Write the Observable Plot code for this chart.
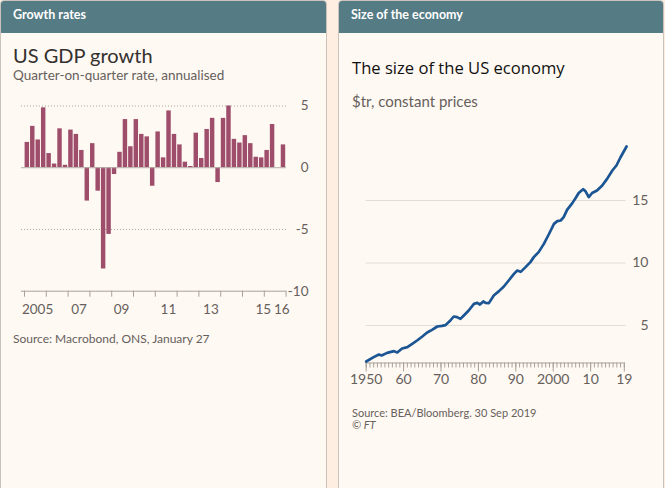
<!DOCTYPE html>
<html><head><meta charset="utf-8">
<script src="https://cdn.jsdelivr.net/npm/d3@7"></script>
<script src="https://cdn.jsdelivr.net/npm/@observablehq/plot@0.6"></script>
<style>
body{margin:0;width:665px;height:488px;background:#fdeee1;position:relative;overflow:hidden;font-family:Lato,"Noto Sans",sans-serif;color:#33302e}
.panel{position:absolute;top:0;height:489px;background:#fff9f3;border:1px solid #cbc2ba;box-sizing:border-box;border-radius:4px 4px 0 0;overflow:hidden}
.hdr{position:absolute;left:0;top:0;right:0;height:32px;background:#557b84}
.t{position:absolute;white-space:nowrap;line-height:1}
.h{color:#fff;font-weight:bold;font-size:12.5px}
.svgbox{position:absolute}
</style></head>
<body>
<div class="panel" style="left:0;width:327px"><div class="hdr"></div></div>
<div class="panel" style="left:338px;width:326px"><div class="hdr"></div></div>

<div class="t h" style="left:13px;top:9px">Growth rates</div>
<div class="t" style="left:13px;top:45px;font-size:20px">US GDP growth</div>
<div class="t" style="left:13px;top:69px;font-size:13.5px;color:#66605c">Quarter-on-quarter rate, annualised</div>
<div class="svgbox" id="left" style="left:0;top:90px"></div>
<div class="t" style="left:13px;top:333px;font-size:12px;color:#66605c">Source: Macrobond, ONS, January 27</div>

<div class="t h" style="left:351px;top:9px">Size of the economy</div>
<div class="t" style="left:352px;top:60px;font-size:16.6px;font-family:'Open Sans';color:#111">The size of the US economy</div>
<div class="t" style="left:352px;top:94px;font-size:15px;color:#66605c">$tr, constant prices</div>
<div class="svgbox" id="right" style="left:338px;top:130px"></div>
<div class="t" style="left:352px;top:407px;font-size:11px;color:#66605c">Source: BEA/Bloomberg. 30 Sep 2019</div>
<div class="t" style="left:352px;top:419px;font-size:11px;color:#66605c;font-style:italic">© FT</div>

<script>
// ---- Left chart: US GDP growth, quarter-on-quarter annualised (%), 2005Q1..2016Q4
const growthStartYear = 2005;
const growthValues = [2.05, 3.35, 2.25, 4.85, 1.15, 0.3, 3.15, 0.2, 3.05, 2.7, 1.4, -2.7,
  1.95, -1.9, -8.2, -5.4, -0.55, 1.25, 3.9, 1.7, 3.9, 2.7, 2.5, -1.5,
  2.9, 0.8, 4.6, 2.7, 1.85, 0.45, 0.1, 2.8, 0.75, 3.1, 4.0, -1.2,
  4.0, 5.0, 2.3, 2.0, 2.6, 1.95, 0.85, 0.8, 1.4, 3.5, null, 1.85];
const growthYTicks = [-10, -5, 0, 5];
const growthYearTicks = d3.range(2005, 2018);
const growthLabelPos = [2005.6, 2007.5, 2009.45, 2011.6, 2013.55, 2015.95, 2016.8];
const growthLabels = ["2005", "07", "09", "11", "13", "15", "16"];

// ---- Right chart: size of the US economy, $tr constant prices
const gdpYears = [1950, 1952, 1953.4, 1954.1, 1955.6, 1957.4, 1958.3, 1959.6, 1961, 1962.3, 1963.6, 1965,
  1966.3, 1967.6, 1969, 1970.3, 1971.2, 1972.5, 1973.4, 1974.3, 1975.2, 1976.1, 1977.4, 1978.8,
  1979.7, 1980.4, 1981.3, 1981.9, 1982.8, 1984.1, 1985.5, 1986.8, 1988.1, 1989.5, 1990.4, 1991.3,
  1992.6, 1993.9, 1994.8, 1996.1, 1997.5, 1998.8, 2000.2, 2001.1, 2002, 2002.8, 2003.7, 2005.1,
  2006, 2006.8, 2008, 2008.6, 2009.5, 2010.4, 2011.7, 2013.1, 2014.4, 2015.8, 2016.9, 2018, 2019.6];
const gdpValues = [2.12, 2.47, 2.68, 2.6, 2.81, 2.95, 2.84, 3.16, 3.27, 3.53, 3.8, 4.12,
  4.44, 4.65, 4.92, 4.97, 5.03, 5.4, 5.72, 5.67, 5.53, 5.8, 6.2, 6.73,
  6.81, 6.68, 6.92, 6.81, 6.79, 7.4, 7.75, 8.12, 8.6, 9.13, 9.4, 9.29,
  9.67, 10.07, 10.47, 10.87, 11.53, 12.28, 13.13, 13.35, 13.4, 13.67, 14.25, 14.79,
  15.2, 15.6, 15.9, 15.75, 15.27, 15.6, 15.8, 16.2, 16.73, 17.4, 17.8, 18.46, 19.32];
const gdpYTicks = [5, 10, 15];
const gdpMajorTicks = [1950, 1960, 1970, 1980, 1990, 2000, 2010, 2019];
const gdpMajorLabels = ["1950", "60", "70", "80", "90", "2000", "10", "19"];
const gdpMinorTicks = d3.range(1950, 2020);

const tickColor = "#66605c";
const axisColor = "#a9a199";

const growth = growthValues.map((v, i) => ({t: growthStartYear + i / 4, t2: growthStartYear + (i + 1) / 4, v}))
  .filter(d => d.v != null);

const left = Plot.plot({
  width: 327, height: 235,
  marginLeft: 24, marginRight: 41.4, marginTop: 15.5, marginBottom: 34.3,
  style: {background: "transparent", fontFamily: "Lato, 'Noto Sans', sans-serif"},
  x: {domain: [2005, 2017], label: null},
  y: {domain: [-10, 5], label: null},
  marks: [
    Plot.ruleY([5, -5], {x1: 2004.86, x2: 2017.02, stroke: "#a9a199", strokeDasharray: "1,2", strokeWidth: 1}),
    Plot.rectY(growth, {x1: "t", x2: "t2", y: "v", fill: "#9e4d6b", insetLeft: 0.6, insetRight: 0.4}),
    Plot.ruleY([0], {x1: 2004.86, x2: 2017.02, stroke: "#b5aea7"}),
    Plot.ruleY([-10], {x1: 2004.86, x2: 2017.02, stroke: axisColor}),
    Plot.axisX(growthYearTicks, {tickSize: 6, tickFormat: () => "", stroke: axisColor, label: null}),
    Plot.axisX(growthLabelPos, {tickSize: 0, tickPadding: 13, fontSize: 13.5, fill: tickColor, label: null,
      tickFormat: d => growthLabels[growthLabelPos.indexOf(d)]}),
    Plot.axisY(growthYTicks, {anchor: "right", tickSize: 0, tickPadding: 0, textAnchor: "end", dx: 22.4,
      fontSize: 13.5, fill: tickColor, label: null, tickFormat: d => d})
  ]
});
document.getElementById("left").append(left);

const gdp = gdpYears.map((y, i) => ({year: y, value: gdpValues[i]}));

const right = Plot.plot({
  width: 327, height: 265,
  marginLeft: 27.7, marginRight: 41.2, marginTop: 7.5, marginBottom: 32.5,
  style: {background: "transparent", fontFamily: "Lato, 'Noto Sans', sans-serif"},
  x: {domain: [1950, 2019], label: null},
  y: {domain: [2, 20], label: null},
  marks: [
    Plot.ruleY(gdpYTicks, {x1: 1950, x2: 2019.5, stroke: "#e4ddd5"}),
    Plot.ruleY([2], {x1: 1950, x2: 2019, stroke: axisColor}),
    Plot.axisX(gdpMinorTicks, {tickSize: 5, tickFormat: () => "", stroke: axisColor, label: null}),
    Plot.axisX(gdpMajorTicks, {tickSize: 9, tickPadding: 2, fontSize: 14, fill: tickColor, stroke: axisColor, label: null,
      tickFormat: d => gdpMajorLabels[gdpMajorTicks.indexOf(d)]}),
    Plot.axisY(gdpYTicks, {anchor: "right", tickSize: 0, tickPadding: 0, textAnchor: "end", dx: 24.2,
      fontSize: 14, fill: tickColor, label: null, tickFormat: d => d}),
    Plot.line(gdp, {x: "year", y: "value", stroke: "#1b5593", strokeWidth: 2.7, curve: "linear"})
  ]
});
document.getElementById("right").append(right);
</script>
</body></html>
